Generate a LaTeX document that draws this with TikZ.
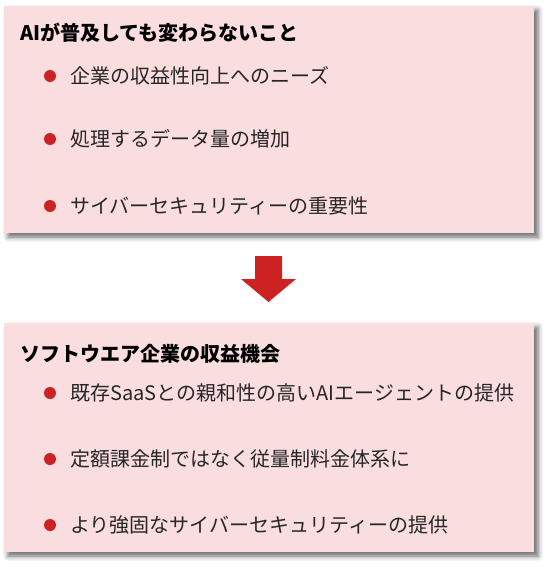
\documentclass[tikz,border=0pt]{standalone}
\usepackage{fontspec}
\setmainfont{Noto Sans CJK JP}
\usetikzlibrary{shadows.blur}
\definecolor{panelpink}{HTML}{FADEDF}
\definecolor{dotred}{HTML}{CC2222}
\definecolor{bodygray}{HTML}{262626}

\begin{document}
\begin{tikzpicture}[x=1pt, y=-1pt,
  panel/.style={fill=panelpink, inner sep=0pt, minimum width=530pt,
    blur shadow={shadow xshift=4pt, shadow yshift=-4pt, shadow blur radius=5pt, shadow opacity=60}},
  heading/.style={anchor=west, inner sep=0pt, font=\fontsize{20}{24}\selectfont\bfseries},
  item/.style={anchor=west, inner sep=0pt, text=bodygray, font=\fontsize{20}{24}\selectfont},
  dot/.style={circle, fill=dotred, inner sep=0pt, minimum size=12pt}]
  \useasboundingbox (0,0) rectangle (549,567);

  % what stays the same
  \node[panel, minimum height=227pt] (keepbox) at (269,119.5) {};
  \node[heading] (keeptitle) at (20,33) {AIが普及しても変わらないこと};
  \foreach \y/\txt [count=\i] in {76/企業の収益性向上へのニーズ,
      139/処理するデータ量の増加, 206/サイバーセキュリティーの重要性} {
    \node[dot] (keepdot\i) at (50,\y) {};
    \node[item] (keepitem\i) at (70,\y) {\txt};
  }

  % arrow
  \fill[dotred] (255,256) -- (282,256) -- (282,279) -- (296,279)
    -- (268.5,302) -- (241,279) -- (255,279) -- cycle;

  % software opportunities
  \node[panel, minimum height=229pt] (gainbox) at (269,437.5) {};
  \node[heading] (gaintitle) at (20,354) {ソフトウエア企業の収益機会};
  \foreach \y/\txt [count=\i] in {393/既存SaaSとの親和性の高いAIエージェントの提供,
      459/定額課金制ではなく従量制料金体系に, 525/より強固なサイバーセキュリティーの提供} {
    \node[dot] (gaindot\i) at (50,\y) {};
    \node[item] (gainitem\i) at (70,\y) {\txt};
  }
\end{tikzpicture}
\end{document}
